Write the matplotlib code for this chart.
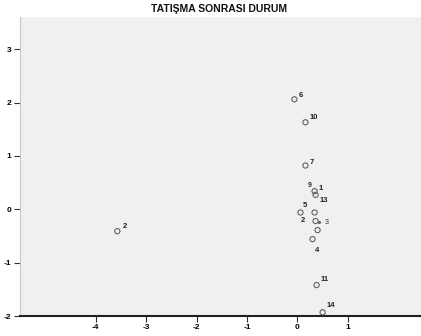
import matplotlib
matplotlib.use('Agg')
import matplotlib.pyplot as plt

plt.rcParams['font.family'] = ['Liberation Sans', 'DejaVu Sans']

# veri: noktalar ve etiketler
x_vals = [-0.06, 0.16, 0.16, 0.34, 0.36, 0.06, 0.34, 0.36, 0.40, 0.30, 0.38, 0.50, -3.57]
y_vals = [2.06, 1.63, 0.82, 0.34, 0.27, -0.06, -0.06, -0.22, -0.39, -0.56, -1.42, -1.93, -0.41]
point_labels = ['6', '10', '7', '1', '13', '5', '', '2', '', '4', '11', '14', '2']
extra_label = '3'
extra_xy = (0.52, -0.24)

x_ticks = [-4, -3, -2, -1, 0, 1]
y_ticks = [3, 2, 1, 0, -1, -2]
title = 'TATIŞMA SONRASI DURUM'

# etiket kaydirmalari (nokta cinsinden)
offsets = [(3, 2), (3, 2), (3, 1), (3, 1), (3, -5), (2, 4), (0, 0), (-11, -1), (0, 0), (2, -9), (3, 3), (3, 4), (4, 2)]

fig = plt.figure(figsize=(4.21, 3.36), dpi=100)
ax = fig.add_axes([0.0475, 0.0595, 0.9525, 0.8895])
ax.set_facecolor('#f0f0f0')

ax.scatter(x_vals, y_vals, s=14, facecolors='none', edgecolors='#606060', linewidths=0.8, zorder=3)
for xv, yv, lab, off in zip(x_vals, y_vals, point_labels, offsets):
    if lab:
        ax.annotate(lab, (xv, yv), xytext=off, textcoords='offset points',
                    fontsize=5.5, fontweight='bold', color='#202020')
# 9 etiketi
ax.annotate('9', (x_vals[3], y_vals[3]), xytext=(-5, 3), textcoords='offset points',
            fontsize=5, fontweight='bold', color='#303030')
ax.plot([extra_xy[0] - 0.1], [extra_xy[1]], marker='o', ms=1.2, color='#606060', ls='none')
ax.annotate(extra_label, extra_xy, xytext=(1, -1.5), textcoords='offset points',
            fontsize=5, color='#303030')

ax.set_xlim(-5.5, 2.45)
ax.set_ylim(-2.0, 3.6)
ax.set_xticks(x_ticks)
ax.set_yticks(y_ticks)
ax.set_xticklabels([str(t) for t in x_ticks], fontweight='bold')
ax.set_yticklabels([str(t) for t in y_ticks], fontweight='bold')
ax.tick_params(axis='both', labelsize=6, length=4, width=0.8, color='#303030', pad=2)

ax.spines['top'].set_visible(False)
ax.spines['right'].set_visible(False)
ax.spines['left'].set_color('#c8c8c8')
ax.spines['left'].set_linewidth(0.8)
ax.spines['bottom'].set_color('#202020')
ax.spines['bottom'].set_linewidth(1.5)

fig.text(0.52, 0.972, title, ha='center', va='center', fontsize=7.5, fontweight='bold', color='#101010')

fig.savefig('out.png', dpi=100)
